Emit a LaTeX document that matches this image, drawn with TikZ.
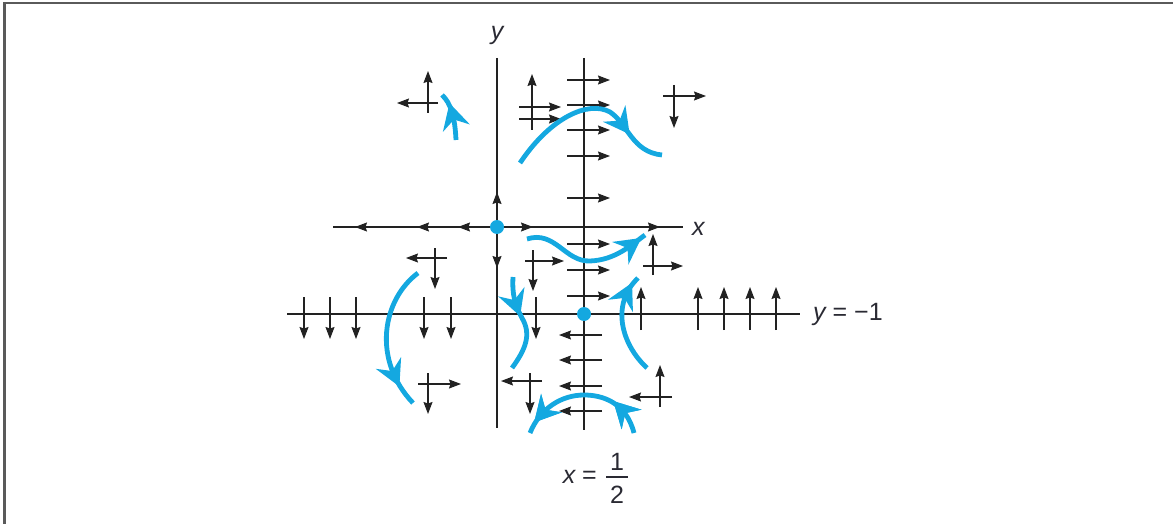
\documentclass[tikz,border=0pt]{standalone}
\usepackage{fontspec}
\setmainfont{Liberation Sans}
\usetikzlibrary{arrows.meta,decorations.markings}
\definecolor{ink}{HTML}{222222}
\definecolor{cyanb}{HTML}{14A8E0}
\definecolor{framec}{HTML}{5A5A5A}
\definecolor{txt}{HTML}{2A2A33}
\tikzset{
  ax/.style={line width=1.2pt, draw=ink},
  fld/.style={line width=1.2pt, draw=ink, -{Stealth[length=12pt,width=9pt,inset=1.5pt]}},
  traj/.style={line width=4.8pt, draw=cyanb},
  mk/.style={postaction={decorate}, decoration={markings,
      mark=at position #1 with {\fill[cyanb] (11pt,0pt) -- (-15pt,14pt) -- (-6pt,0pt) -- (-15pt,-14pt) -- cycle;}}},
  lbl/.style={inner sep=0pt, text=txt, font=\fontsize{25}{29}\selectfont},
  eq/.style={fill=cyanb, draw=none}
}
\begin{document}
\begin{tikzpicture}[x=1pt,y=-1pt]
\useasboundingbox (0,0) rectangle (1173,524);
% frame
\draw[framec, line width=2.4pt] (4.5,524) -- (4.5,3) -- (1173,3);

% axes and lines
\coordinate (O) at (497,227);
\coordinate (P) at (584,314);
\draw[ax] (333,227) -- (683,227);
\draw[ax] (497,58) -- (497,428);
\draw[ax] (584,58) -- (584,430);
\draw[ax] (287,314) -- (800,314);

% arrowheads on the x-axis and y-axis
\foreach \t in {355,417,458} \draw[fld] (\t+13,227) -- (\t,227);
\foreach \t in {533,660} \draw[fld] (\t-13,227) -- (\t,227);
\draw[fld] (497,205) -- (497,192);
\draw[fld] (497,255) -- (497,268);

% field on x = 1/2
\foreach \v in {80,105,130,156,198,244,270,296} \draw[fld] (567,\v) -- (610,\v);
\foreach \v in {335,360,386,411} \draw[fld] (602,\v) -- (559,\v);

% field on y = -1
\foreach \u in {304,330,356,424,451,536} \draw[fld] (\u,297) -- (\u,339);
\foreach \u in {641,698,724,750,776} \draw[fld] (\u,330) -- (\u,287);

% crosses
\draw[fld] (438,103) -- (397,103); \draw[fld] (428,113) -- (428,71);
\draw[fld] (532,130) -- (532,74); \draw[fld] (519,107) -- (561,107); \draw[fld] (519,119) -- (561,119);
\draw[fld] (674,85) -- (674,128); \draw[fld] (663,96) -- (706,96);
\draw[fld] (447,258) -- (406,258); \draw[fld] (435,248) -- (435,289);
\draw[fld] (525,261) -- (564,261); \draw[fld] (533,250) -- (533,291);
\draw[fld] (653,275) -- (653,234); \draw[fld] (643,266) -- (683,266);
\draw[fld] (418,384) -- (461,384); \draw[fld] (428,373) -- (428,414);
\draw[fld] (542,381) -- (501,381); \draw[fld] (530,373) -- (530,414);
\draw[fld] (672,397) -- (629,397); \draw[fld] (660,407) -- (660,365);

% trajectories
\draw[traj, mk=0.55] (456,140) .. controls (455,118) and (451,103) .. (442,95);
\draw[traj, mk=0.72] (520,163) .. controls (550,118) and (588,100) .. (610,112)
   .. controls (628,124) and (632,152) .. (662,155);
\draw[traj, mk=0.88] (527,239) .. controls (555,230) and (565,262) .. (590,261)
   .. controls (615,260) and (630,246) .. (645,235);
\draw[traj, mk=0.82] (647,368) .. controls (622,345) and (610,305) .. (638,278);
\draw[traj, mk=0.78] (418,273) .. controls (382,300) and (372,360) .. (413,403);
\draw[traj, mk=0.3] (513,277) .. controls (512,295) and (515,305) .. (522,318)
   .. controls (532,335) and (525,350) .. (512,368);
\draw[traj, mk=0.2, mk=0.84] (634,433) .. controls (626,402) and (602,395) .. (584,395)
   .. controls (562,395) and (540,408) .. (530,433);

% equilibrium points
\fill[eq] (O) circle (7pt);
\fill[eq] (P) circle (7pt);

% labels
\node[lbl, anchor=base] (ly) at (497,40) {\itshape y};
\node[lbl, anchor=base west] (lx) at (692,235) {\itshape x};
\node[lbl, anchor=base west] (lym) at (813,320) {{\itshape y} = −1};
\node[lbl, anchor=base east] (lxh) at (597,483) {{\itshape x} =};
\node[lbl, anchor=base] (n1) at (617,470) {1};
\node[lbl, anchor=base] (n2) at (617,503) {2};
\draw[txt, line width=1.3pt] (606,477) -- (628,477);
\end{tikzpicture}
\end{document}
